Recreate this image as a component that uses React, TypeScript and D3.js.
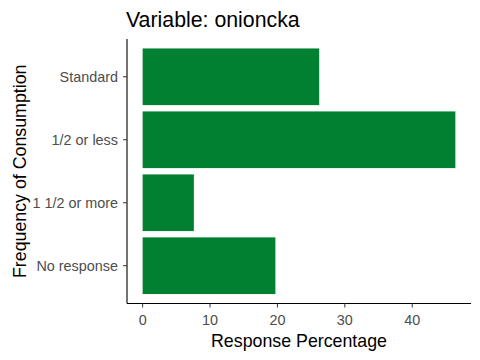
import React from "react";
import * as d3 from "d3";

const categories = ["Standard", "1/2 or less", "1 1/2 or more", "No response"];
const values = [26.2, 46.4, 7.6, 19.7];
const xTicks = [0, 10, 20, 30, 40];

const W = 480;
const H = 360;
const panel = { left: 127, right: 471, top: 39, bottom: 303.5 };
const font = "Liberation Sans, Arial, sans-serif";

export default function App() {
  const xMax = d3.max(values) as number;
  const pad = xMax * 0.05;
  const x = d3.scaleLinear().domain([-pad, xMax + pad]).range([panel.left, panel.right]);
  const n = categories.length;
  // ggplot discrete expansion: 0.6 unit each side
  const step = (panel.bottom - panel.top) / (n - 1 + 1.2);
  const yCenter = (i: number) => panel.top + (0.6 + i) * step;
  const bandH = step * 0.9;

  return (
    <svg width={W} height={H} style={{ position: "absolute", left: 0, top: 0 }} fontFamily={font}>
      <rect width={W} height={H} fill="#fff" />
      {categories.map((c, i) => (
        <rect
          key={c}
          x={x(0)}
          y={yCenter(i) - bandH / 2}
          width={x(values[i]) - x(0)}
          height={bandH}
          fill="#028032"
        />
      ))}
      <line x1={panel.left} x2={panel.left} y1={panel.top} y2={panel.bottom} stroke="#000" strokeWidth={1.1} />
      <line x1={panel.left} x2={panel.right} y1={panel.bottom} y2={panel.bottom} stroke="#000" strokeWidth={1.1} />
      {categories.map((c, i) => (
        <g key={c}>
          <line x1={panel.left - 4} x2={panel.left} y1={yCenter(i)} y2={yCenter(i)} stroke="#333" />
          <text x={panel.left - 9} y={yCenter(i)} dy="0.36em" textAnchor="end" fontSize={14.4} fill="#4d4d4d">
            {c}
          </text>
        </g>
      ))}
      {xTicks.map((t) => (
        <g key={t}>
          <line x1={x(t)} x2={x(t)} y1={panel.bottom} y2={panel.bottom + 4} stroke="#333" />
          <text x={x(t)} y={panel.bottom + 21.5} textAnchor="middle" fontSize={14.4} fill="#4d4d4d">
            {t}
          </text>
        </g>
      ))}
      <text x={(panel.left + panel.right) / 2} y={347} textAnchor="middle" fontSize={17.8} fill="#000">
        Response Percentage
      </text>
      <text
        transform={`translate(26, ${(panel.top + panel.bottom) / 2}) rotate(-90)`}
        textAnchor="middle"
        fontSize={17.8}
        fill="#000"
      >
        Frequency of Consumption
      </text>
      <text x={126} y={27} fontSize={21.3} fill="#000">
        Variable: onioncka
      </text>
    </svg>
  );
}
